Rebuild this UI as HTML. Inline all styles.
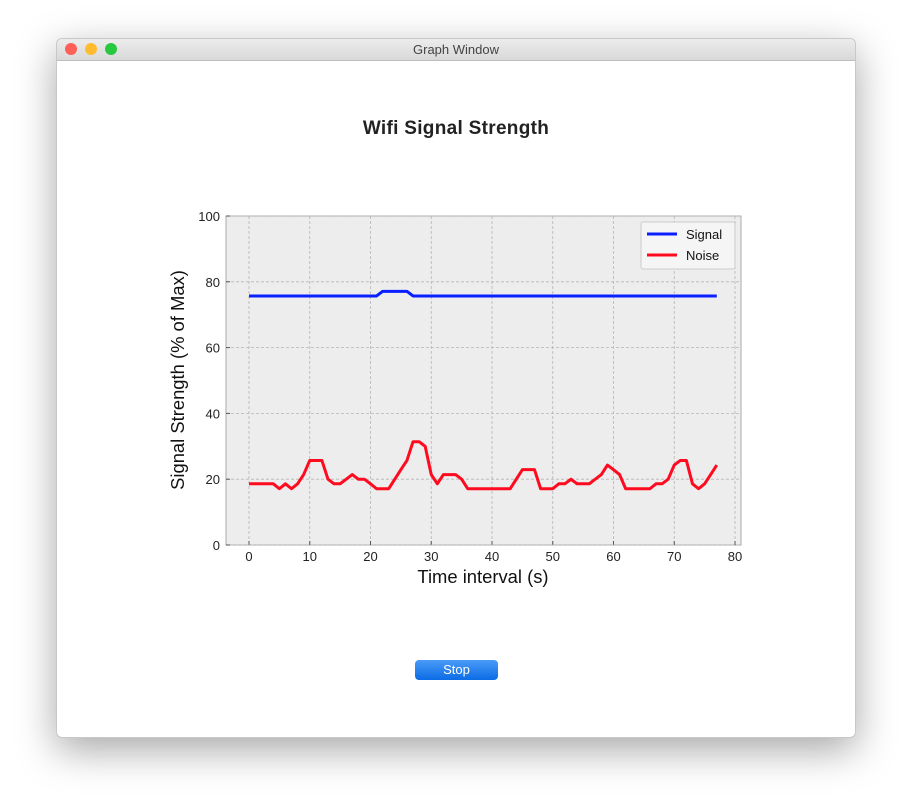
<!DOCTYPE html>
<html><head><meta charset="utf-8"><style>
body{margin:0;width:912px;height:812px;background:#fff;font-family:"Liberation Sans",sans-serif;position:relative;overflow:hidden}
#win{position:absolute;left:56px;top:38px;width:800px;height:700px;background:#fff;border-radius:6px;box-shadow:0 12px 40px rgba(0,0,0,0.35);overflow:hidden;border:1px solid #c8c8c8;box-sizing:border-box}
#tb{height:21px;background:linear-gradient(#ececec,#d9d9d9);border-bottom:1px solid #bdbdbd;text-align:center;font-size:13px;color:#444;line-height:21px;position:relative}
.dot{position:absolute;top:4px;width:12px;height:12px;border-radius:50%}
#stop{position:absolute;left:358px;top:621px;width:83px;height:20px;border-radius:4px;background:linear-gradient(#4a9bf7,#0b6ce6);color:#fff;font-size:13px;text-align:center;line-height:20px}
</style></head><body>
<div id="win">
<div id="tb">
<div class="dot" style="left:8px;background:#fe5f57"></div>
<div class="dot" style="left:28px;background:#febc2e"></div>
<div class="dot" style="left:48px;background:#28c840"></div>
Graph Window</div>
<div id="stop">Stop</div>
</div>
<svg id="chart" width="912" height="812" style="position:absolute;left:0;top:0"></svg>
<script>
const xTicks=[0,10,20,30,40,50,60,70,80];
const yTicks=[0,20,40,60,80,100];
const signal=[75.7,75.7,75.7,75.7,75.7,75.7,75.7,75.7,75.7,75.7,75.7,75.7,75.7,75.7,75.7,75.7,75.7,75.7,75.7,75.7,75.7,75.7,77.1,77.1,77.1,77.1,77.1,75.7,75.7,75.7,75.7,75.7,75.7,75.7,75.7,75.7,75.7,75.7,75.7,75.7,75.7,75.7,75.7,75.7,75.7,75.7,75.7,75.7,75.7,75.7,75.7,75.7,75.7,75.7,75.7,75.7,75.7,75.7,75.7,75.7,75.7,75.7,75.7,75.7,75.7,75.7,75.7,75.7,75.7,75.7,75.7,75.7,75.7,75.7,75.7,75.7,75.7,75.7];
const noise=[18.6,18.6,18.6,18.6,18.6,17.1,18.6,17.1,18.6,21.4,25.7,25.7,25.7,20,18.6,18.6,20,21.4,20,20,18.6,17.1,17.1,17.1,20,22.9,25.7,31.4,31.4,30,21.4,18.6,21.4,21.4,21.4,20,17.1,17.1,17.1,17.1,17.1,17.1,17.1,17.1,20,22.9,22.9,22.9,17.1,17.1,17.1,18.6,18.6,20,18.6,18.6,18.6,20,21.4,24.3,22.9,21.4,17.1,17.1,17.1,17.1,17.1,18.6,18.6,20,24.3,25.7,25.7,18.6,17.1,18.6,21.4,24.3];
const NS="http://www.w3.org/2000/svg";
const svg=document.getElementById('chart');
const L=226,R=741,T=216,B=545;
const sx=v=>249+v*(735-249)/80;
const sy=v=>B-v*(B-T)/100;
function mk(tag,a,txt){const e=document.createElementNS(NS,tag);for(const k in a)e.setAttribute(k,a[k]);if(txt!=null)e.textContent=txt;svg.appendChild(e);return e;}
let e=mk('text',{x:456,y:134,'text-anchor':'middle','font-size':19,'font-weight':'bold',fill:'#222','letter-spacing':'0.3'},'Wifi Signal Strength');


e=mk('rect',{x:L,y:T,width:R-L,height:B-T,fill:'#ededed',stroke:'#aaa'});


xTicks.forEach(t=>{const x=sx(t);
e=mk('line',{x1:x,x2:x,y1:T,y2:B,stroke:'#b5b5b5','stroke-dasharray':'3,2','stroke-width':0.8});


mk('line',{x1:x,x2:x,y1:B,y2:B-4,stroke:'#555'});
e=mk('text',{x:x,y:B+16,'text-anchor':'middle','font-size':13,fill:'#222'},t);

});
yTicks.forEach(t=>{const y=sy(t);
e=mk('line',{x1:L,x2:R,y1:y,y2:y,stroke:'#b5b5b5','stroke-dasharray':'3,2','stroke-width':0.8});


mk('line',{x1:L,x2:L+4,y1:y,y2:y,stroke:'#555'});
e=mk('text',{x:L-6,y:y+5,'text-anchor':'end','font-size':13,fill:'#222'},t);

});
e=mk('text',{x:483,y:583,'text-anchor':'middle','font-size':18.4,fill:'#111'},'Time interval (s)');


e=mk('text',{x:184,y:380,'text-anchor':'middle','font-size':18.4,fill:'#111',transform:'rotate(-90 184 380)'},'Signal Strength (% of Max)');


function line(arr,col,name){const p=arr.map((v,i)=>sx(i)+','+sy(v)).join(' ');
const el=mk('polyline',{points:p,fill:'none',stroke:col,'stroke-width':3,'stroke-linejoin':'round'});

}
line(signal,'#0a1fff','signal-line');
line(noise,'#ff0a1f','noise-line');
e=mk('rect',{x:641,y:222,width:94,height:47,fill:'#f5f5f5',stroke:'#ccc',rx:2});


mk('line',{x1:647,x2:677,y1:234,y2:234,stroke:'#0a1fff','stroke-width':3});
e=mk('text',{x:686,y:239,'font-size':13,fill:'#111'},'Signal');


mk('line',{x1:647,x2:677,y1:255,y2:255,stroke:'#ff0a1f','stroke-width':3});
e=mk('text',{x:686,y:260,'font-size':13,fill:'#111'},'Noise');


</script>
</body></html>
